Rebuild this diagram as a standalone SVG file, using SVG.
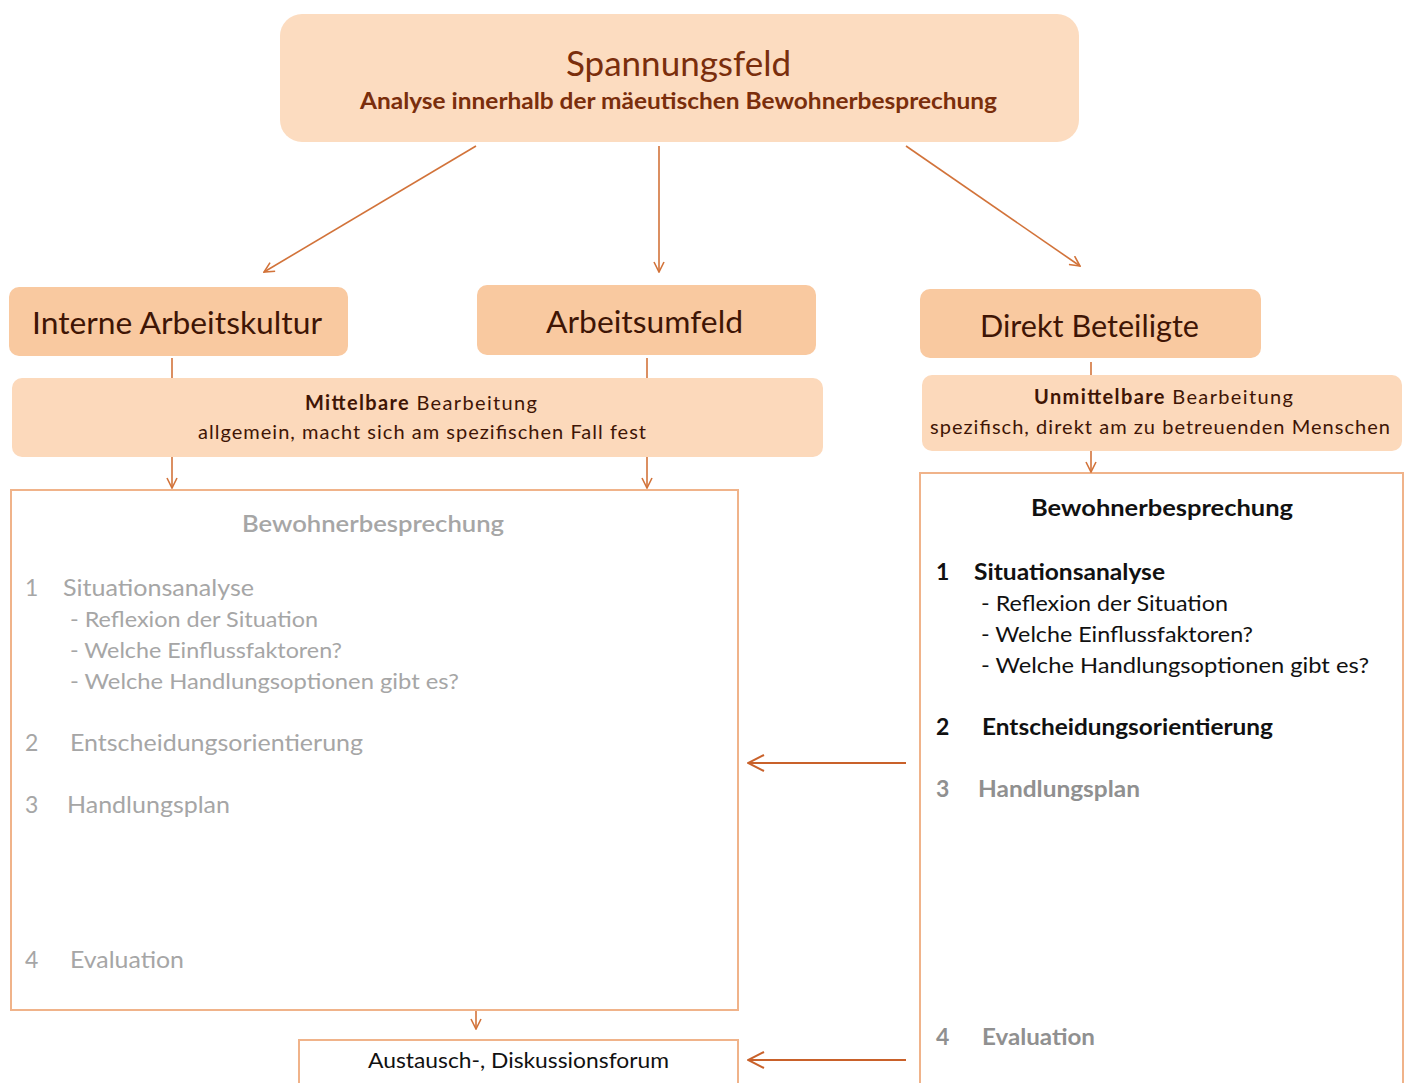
<svg xmlns="http://www.w3.org/2000/svg" width="1410" height="1083" viewBox="0 0 1410 1083">
<defs>
<marker id="ah" viewBox="0 0 12 12" refX="11" refY="6" markerWidth="12" markerHeight="12" markerUnits="userSpaceOnUse" orient="auto">
<path d="M1,1 L11,6 L1,11" fill="none" stroke="#d2733a" stroke-width="1.6"/>
</marker>
<marker id="ahl" viewBox="0 0 18 18" refX="17" refY="9" markerWidth="18" markerHeight="18" markerUnits="userSpaceOnUse" orient="auto">
<path d="M1,1 L17,9 L1,17" fill="none" stroke="#c9612a" stroke-width="2"/>
</marker>
</defs>
<style>
text{font-family:Lato,"Open Sans","Liberation Sans",sans-serif}
.top{fill:#fcdcc0}
.mid{fill:#f9c9a0}
.band{fill:#fcd9bb}
.frame{fill:#fff;stroke:#f0b38a;stroke-width:2}
.c{stroke:#d2733a;stroke-width:1.6;fill:none}
.cl{stroke:#c9612a;stroke-width:2;fill:none}
.brown{fill:#7a2e0c}
.dark{fill:#3f1505}
.gray{fill:#a6a6a6}
.black{fill:#111}
.g2{fill:#909090}
</style>
<rect width="1410" height="1083" fill="#fff"/>
<g id="spannungsfeld">
<rect class="top" x="280" y="14" width="799" height="128" rx="22"/>
<text class="brown" x="678.5" y="76" font-size="35" text-anchor="middle" textLength="225" lengthAdjust="spacingAndGlyphs">Spannungsfeld</text>
<text class="brown" x="678.5" y="109" font-size="22" font-weight="bold" text-anchor="middle" textLength="637" lengthAdjust="spacingAndGlyphs">Analyse innerhalb der mäeutischen Bewohnerbesprechung</text>
</g>
<g id="interne">
<rect class="mid" x="9" y="287" width="339" height="69" rx="10"/>
<text class="dark" x="177" y="334" font-size="31" text-anchor="middle" textLength="290" lengthAdjust="spacingAndGlyphs">Interne Arbeitskultur</text>
</g>
<g id="arbeitsumfeld">
<rect class="mid" x="477" y="285" width="339" height="70" rx="10"/>
<text class="dark" x="644.5" y="333" font-size="31" text-anchor="middle" textLength="197" lengthAdjust="spacingAndGlyphs">Arbeitsumfeld</text>
</g>
<g id="direkt">
<rect class="mid" x="920" y="289" width="341" height="69" rx="10"/>
<text class="dark" x="1089.5" y="337" font-size="31" text-anchor="middle" textLength="219" lengthAdjust="spacingAndGlyphs">Direkt Beteiligte</text>
</g>
<g id="mittelbar">
<rect class="band" x="12" y="378" width="811" height="79" rx="10"/>
<text class="dark" x="421" y="410" font-size="20" text-anchor="middle" textLength="232" lengthAdjust="spacing"><tspan font-weight="bold">Mittelbare</tspan> Bearbeitung</text>
<text class="dark" x="422" y="439" font-size="20" text-anchor="middle" textLength="448" lengthAdjust="spacing">allgemein, macht sich am spezifischen Fall fest</text>
</g>
<g id="unmittelbar">
<rect class="band" x="922" y="375" width="480" height="76" rx="10"/>
<text class="dark" x="1163.5" y="404" font-size="20" text-anchor="middle" textLength="259" lengthAdjust="spacing"><tspan font-weight="bold">Unmittelbare</tspan> Bearbeitung</text>
<text class="dark" x="1160" y="434" font-size="20" text-anchor="middle" textLength="460" lengthAdjust="spacing">spezifisch, direkt am zu betreuenden  Menschen</text>
</g>
<g id="bewohner-links">
<rect class="frame" x="11" y="490" width="727" height="520"/>
<text class="gray" x="373" y="532" font-size="23" font-weight="600" text-anchor="middle" textLength="262" lengthAdjust="spacingAndGlyphs">Bewohnerbesprechung</text>
<text class="gray" x="25" y="596" font-size="23">1</text>
<text class="gray" x="63" y="596" font-size="23" textLength="191" lengthAdjust="spacingAndGlyphs">Situationsanalyse</text>
<text class="gray" x="70" y="627" font-size="22" textLength="248" lengthAdjust="spacingAndGlyphs">- Reflexion der Situation</text>
<text class="gray" x="70" y="658" font-size="22" textLength="272" lengthAdjust="spacingAndGlyphs">- Welche  Einflussfaktoren?</text>
<text class="gray" x="70" y="689" font-size="22" textLength="389" lengthAdjust="spacingAndGlyphs">- Welche  Handlungsoptionen  gibt es?</text>
<text class="gray" x="25" y="751" font-size="23">2</text>
<text class="gray" x="70" y="751" font-size="23" textLength="293" lengthAdjust="spacingAndGlyphs">Entscheidungsorientierung</text>
<text class="gray" x="25" y="813" font-size="23">3</text>
<text class="gray" x="67" y="813" font-size="23" textLength="163" lengthAdjust="spacingAndGlyphs">Handlungsplan</text>
<text class="gray" x="25" y="968" font-size="23">4</text>
<text class="gray" x="70" y="968" font-size="23" textLength="114" lengthAdjust="spacingAndGlyphs">Evaluation</text>
</g>
<g id="bewohner-rechts">
<rect class="frame" x="920" y="473" width="483" height="630"/>
<text class="black" x="1162" y="516" font-size="23" font-weight="bold" text-anchor="middle" textLength="262" lengthAdjust="spacingAndGlyphs">Bewohnerbesprechung</text>
<text class="black" x="936" y="580" font-size="23" font-weight="bold">1</text>
<text class="black" x="974" y="580" font-size="23" font-weight="bold" textLength="191" lengthAdjust="spacingAndGlyphs">Situationsanalyse</text>
<text class="black" x="981" y="611" font-size="22" textLength="247" lengthAdjust="spacingAndGlyphs">- Reflexion der Situation</text>
<text class="black" x="981" y="642" font-size="22" textLength="272" lengthAdjust="spacingAndGlyphs">- Welche  Einflussfaktoren?</text>
<text class="black" x="981" y="673" font-size="22" textLength="388" lengthAdjust="spacingAndGlyphs">- Welche  Handlungsoptionen  gibt es?</text>
<text class="black" x="936" y="735" font-size="23" font-weight="bold">2</text>
<text class="black" x="982" y="735" font-size="23" font-weight="bold" textLength="291" lengthAdjust="spacingAndGlyphs">Entscheidungsorientierung</text>
<text class="g2" x="936" y="797" font-size="23" font-weight="bold">3</text>
<text class="g2" x="978" y="797" font-size="23" font-weight="bold" textLength="162" lengthAdjust="spacingAndGlyphs">Handlungsplan</text>
<text class="g2" x="936" y="1045" font-size="23" font-weight="bold">4</text>
<text class="g2" x="982" y="1045" font-size="23" font-weight="bold" textLength="113" lengthAdjust="spacingAndGlyphs">Evaluation</text>
</g>
<g id="forum">
<rect class="frame" x="299" y="1040" width="439" height="60"/>
<text class="black" x="518.5" y="1068" font-size="22" text-anchor="middle" textLength="301" lengthAdjust="spacingAndGlyphs">Austausch-,  Diskussionsforum</text>
</g>
<g id="connectors">
<line class="c" x1="476" y1="146" x2="264" y2="272" marker-end="url(#ah)"/>
<line class="c" x1="659" y1="146" x2="659" y2="272" marker-end="url(#ah)"/>
<line class="c" x1="906" y1="146" x2="1080" y2="266" marker-end="url(#ah)"/>
<line class="c" x1="172" y1="358" x2="172" y2="378"/>
<line class="c" x1="647" y1="358" x2="647" y2="378"/>
<line class="c" x1="1091" y1="362" x2="1091" y2="375"/>
<line class="c" x1="172" y1="457" x2="172" y2="488" marker-end="url(#ah)"/>
<line class="c" x1="647" y1="457" x2="647" y2="488" marker-end="url(#ah)"/>
<line class="c" x1="1091" y1="451" x2="1091" y2="472" marker-end="url(#ah)"/>
<line class="c" x1="476" y1="1011" x2="476" y2="1029" marker-end="url(#ah)"/>
<line class="cl" x1="906" y1="763" x2="748" y2="763" marker-end="url(#ahl)"/>
<line class="cl" x1="906" y1="1060" x2="748" y2="1060" marker-end="url(#ahl)"/>
</g>
</svg>
